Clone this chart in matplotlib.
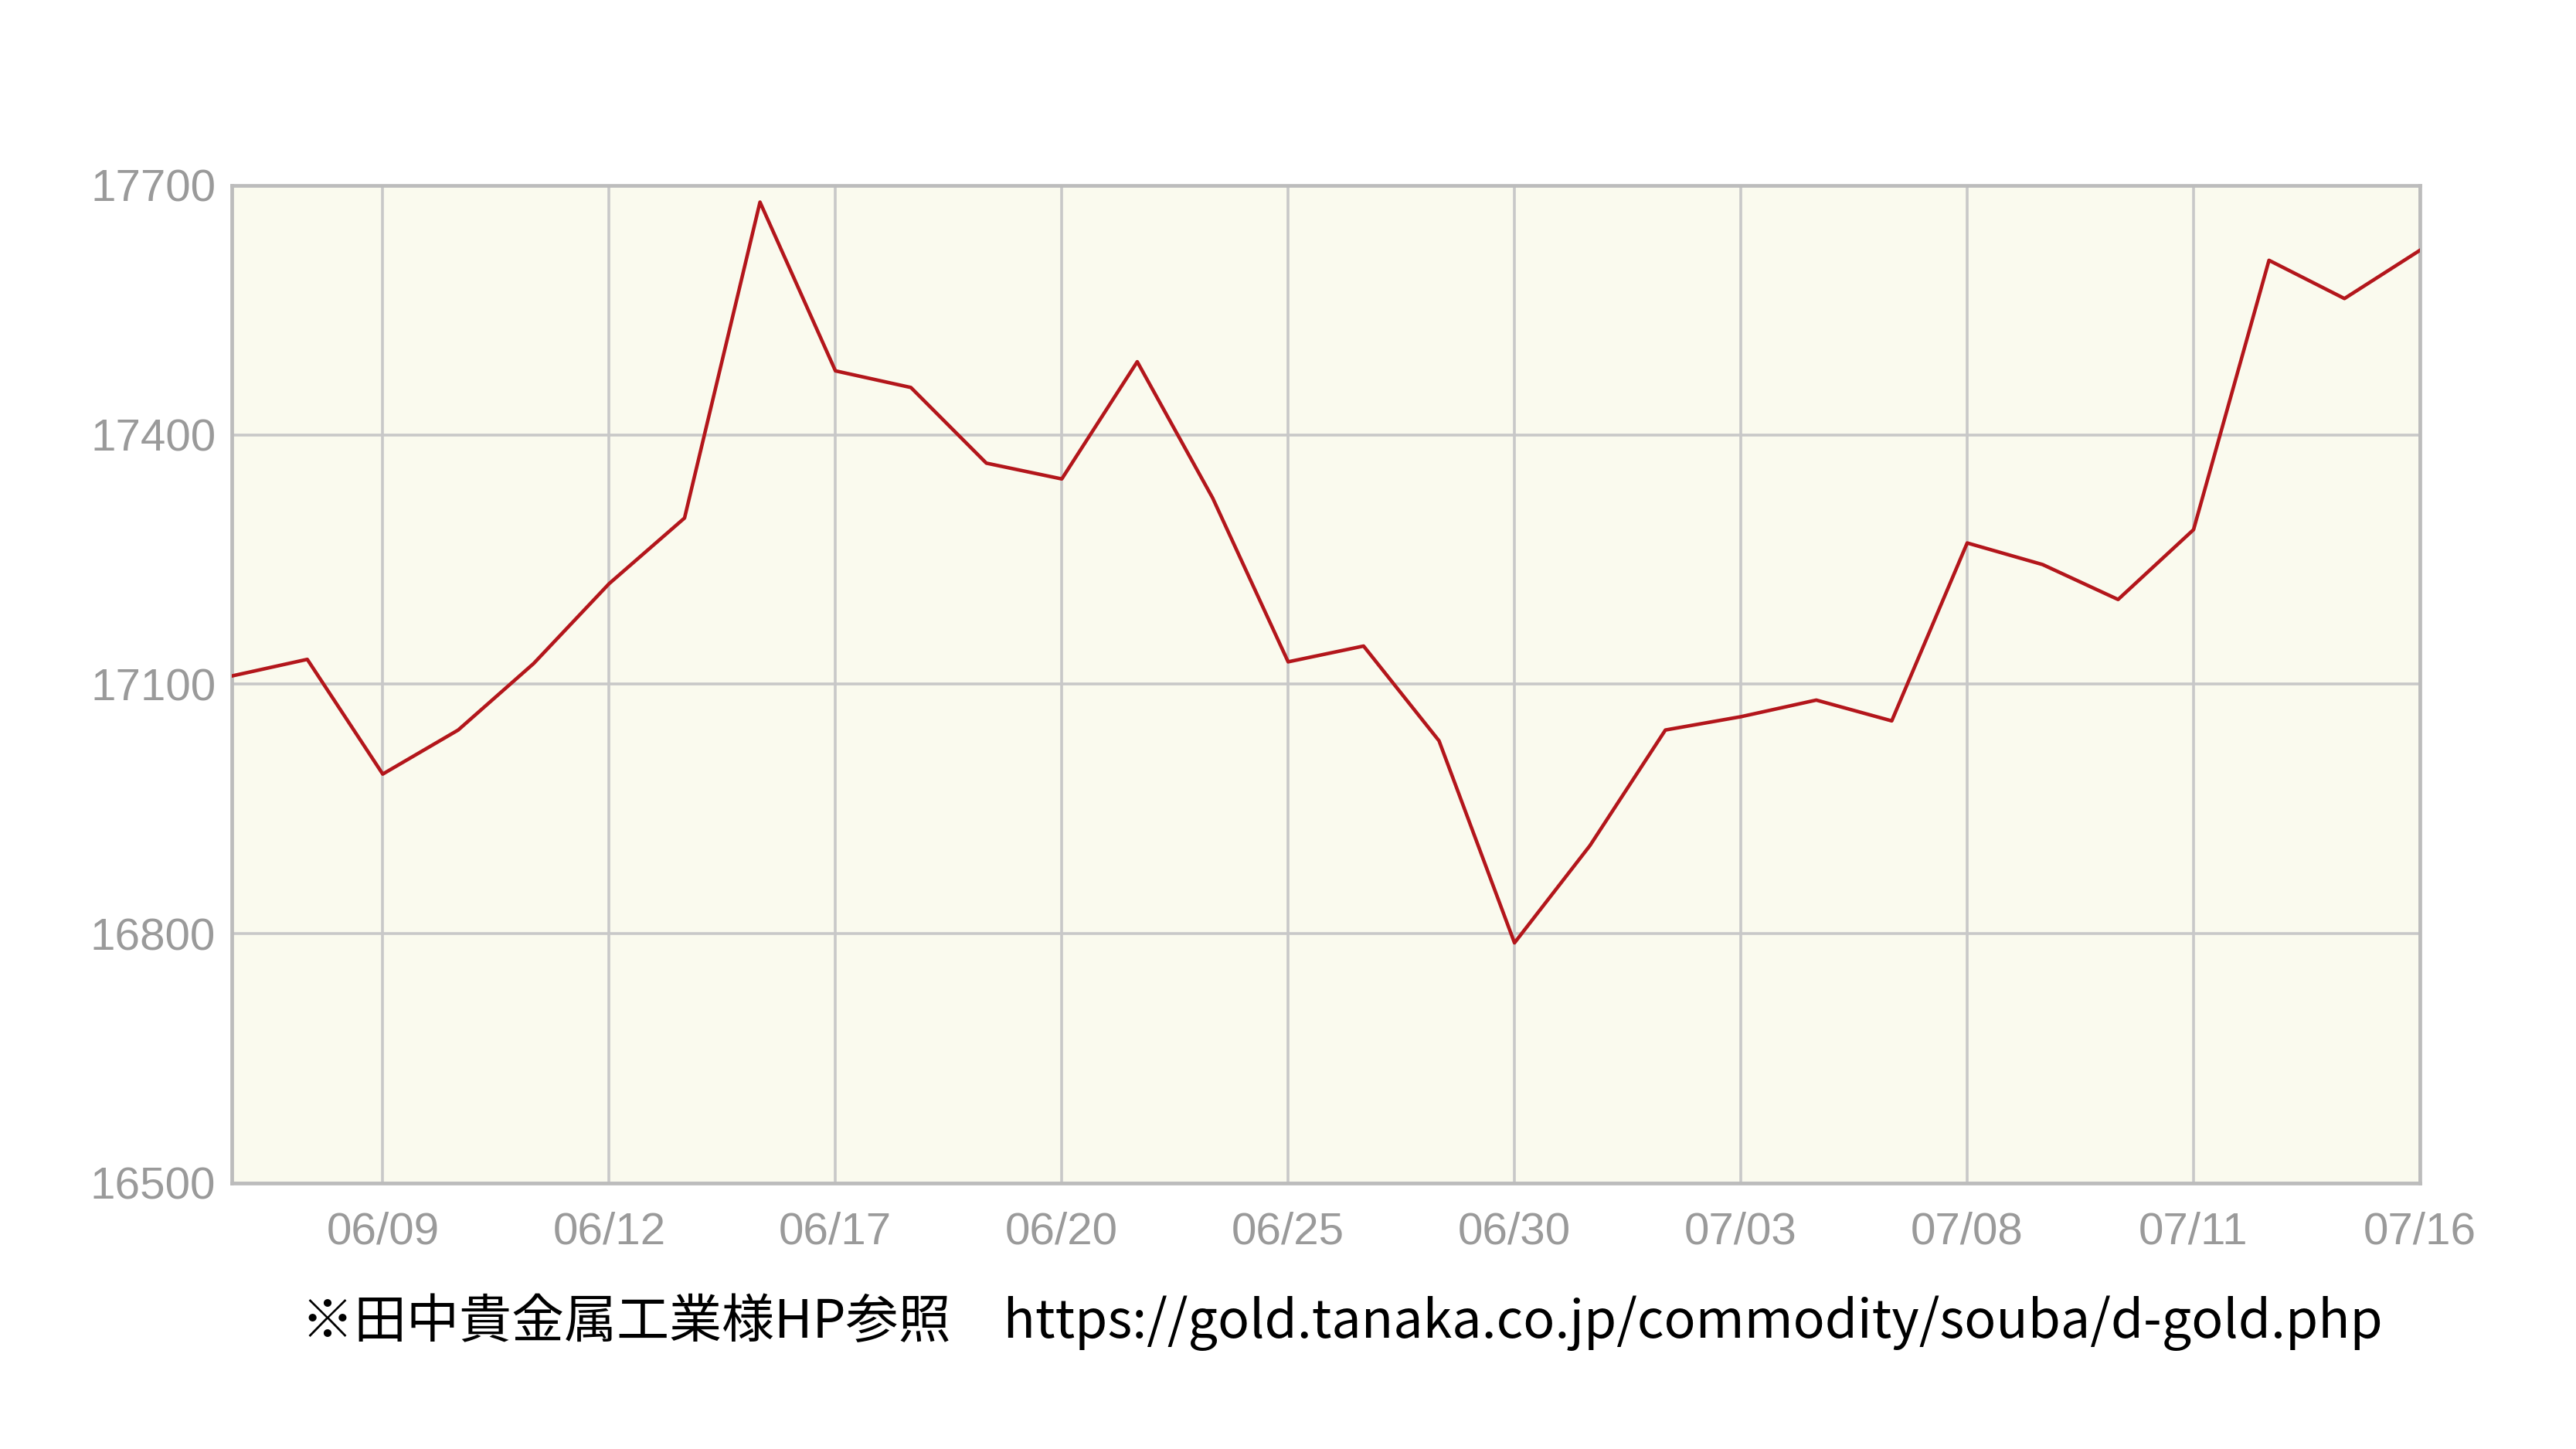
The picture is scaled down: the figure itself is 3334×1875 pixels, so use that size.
import matplotlib
matplotlib.use("Agg")
import matplotlib.pyplot as plt

# Tanaka gold retail price (yen/g), business days 06/05 - 07/16
dates = ['06/05', '06/06', '06/09', '06/10', '06/11', '06/12', '06/13', '06/16',
         '06/17', '06/18', '06/19', '06/20', '06/23', '06/24', '06/25', '06/26',
         '06/27', '06/30', '07/01', '07/02', '07/03', '07/04', '07/07', '07/08',
         '07/09', '07/10', '07/11', '07/14', '07/15', '07/16']
prices = [17110, 17130, 16992, 17045, 17125, 17221, 17300, 17680,
          17477, 17457, 17366, 17347, 17488, 17324, 17127, 17146,
          17032, 16789, 16906, 17045, 17061, 17081, 17056, 17270,
          17244, 17202, 17286, 17610, 17564, 17622]
yticks = [16500, 16800, 17100, 17400, 17700]
footer = '※田中貴金属工業様HP参照　https://gold.tanaka.co.jp/commodity/souba/d-gold.php'

gray_txt = '#9a9a9a'
grid_col = '#c8c8c8'

fig = plt.figure(figsize=(33.34, 18.75), dpi=100)
ax = fig.add_axes([0.090, 0.1835, 0.8494, 0.6885])
ax.set_facecolor('#fafaee')

x = list(range(len(prices)))
ax.plot(x, prices, color='#b3161b', lw=3.3, zorder=3)

ax.set_xlim(0, len(prices) - 1)
ax.set_ylim(yticks[0], yticks[-1])

# tick every third day, starting with 06/09
xt = x[2::3]
ax.set_xticks(xt)
ax.set_xticklabels([dates[i] for i in xt])
ax.set_yticks(yticks)
ax.set_yticklabels([str(v) for v in yticks])

ax.grid(True, color=grid_col, lw=2.6, zorder=1)
ax.tick_params(axis='both', length=0, labelsize=42, labelcolor=gray_txt)
ax.tick_params(axis='x', pad=26)
ax.tick_params(axis='y', pad=15)
for lab in ax.get_xticklabels() + ax.get_yticklabels():
    lab.set_family('Liberation Sans')

for sp in ax.spines.values():
    sp.set_color('#bcbcbc')
    sp.set_linewidth(3.4)

fig.text(0.521, 0.0875, footer, ha='center', va='center', fontsize=49,
         color='black', family=['Noto Sans CJK JP', 'DejaVu Sans'])

fig.savefig('out.png', dpi=100, facecolor='white')
